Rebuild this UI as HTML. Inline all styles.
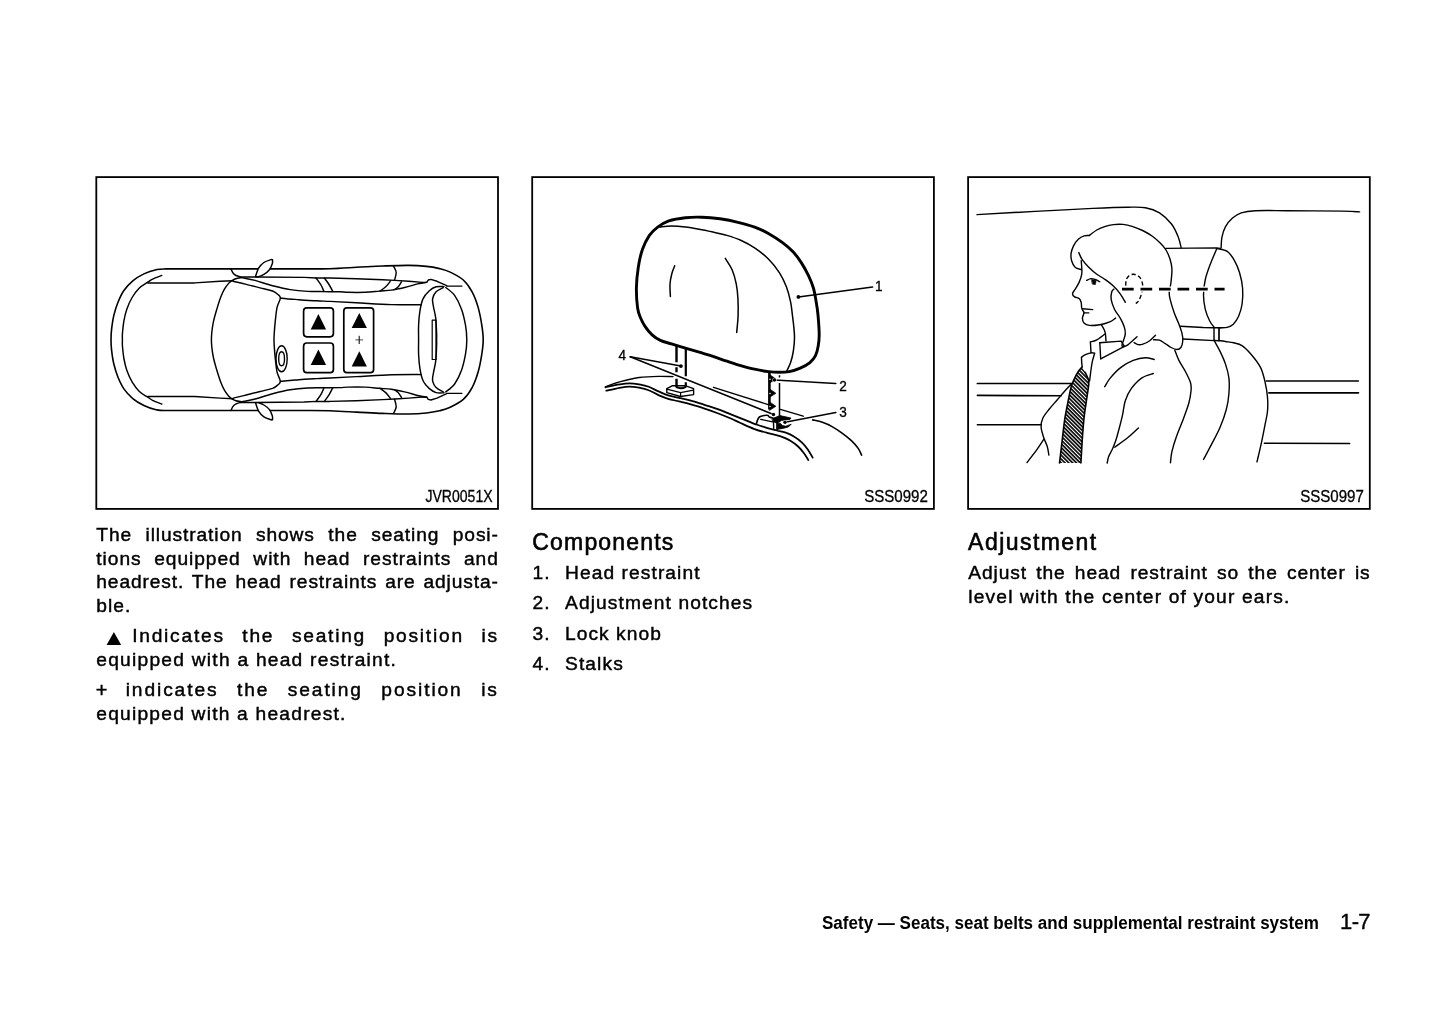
<!DOCTYPE html>
<html lang="en">
<head>
<meta charset="utf-8">
<title>Safety — Seats, seat belts and supplemental restraint system 1-7</title>
<style>
html,body{margin:0;padding:0;background:#fff;}
body{width:1445px;height:1026px;position:relative;overflow:hidden;color:#000;
  font-family:"Liberation Sans","DejaVu Sans",sans-serif;}
#page{position:absolute;left:0;top:0;width:1445px;height:1026px;will-change:transform;}
.fig{position:absolute;top:178px;width:399.9px;height:330px;}
#f1{left:97.2px;} #f2{left:533.1px;} #f3{left:969px;}
.code{position:absolute;right:5px;bottom:1.6px;font-size:15.6px;line-height:18px;letter-spacing:0;transform:scaleX(0.9);transform-origin:100% 50%;-webkit-text-stroke:0.3px #000;white-space:nowrap;}
.col{position:absolute;width:403px;}
.tri{display:inline-block;width:35.9px;height:10px;letter-spacing:0;font-family:"DejaVu Sans",sans-serif;font-size:20px;line-height:10px;text-align:left;text-indent:9.6px;-webkit-text-stroke:0;transform:translate(0.5px,1.1px) scaleY(0.86) scaleX(0.96);transform-origin:50% 100%;vertical-align:baseline;}
.ln{position:absolute;left:0;width:402.5px;font-size:19.2px;line-height:24px;height:24px;white-space:nowrap;
  text-align:justify;text-align-last:justify;letter-spacing:0.9px;-webkit-text-stroke:0.45px #000;}
.ln.l{text-align:left;text-align-last:left;}
h2{position:absolute;margin:0;font-weight:normal;font-size:23px;line-height:28px;letter-spacing:0.6px;white-space:nowrap;-webkit-text-stroke:0.6px #000;}
.foot{position:absolute;white-space:nowrap;}
</style>
</head>
<body>
<div id="page">
<svg id="art" width="1445" height="1026" viewBox="0 0 1445 1026" style="position:absolute;left:0;top:0" fill="none" stroke="#000" stroke-linecap="round" stroke-linejoin="round">
<rect x="96.3" y="177.1" width="401.7" height="331.8" stroke-width="1.8" stroke-linejoin="miter"/>
<rect x="532.2" y="177.1" width="401.7" height="331.8" stroke-width="1.8" stroke-linejoin="miter"/>
<rect x="968.1" y="177.1" width="401.7" height="331.8" stroke-width="1.8" stroke-linejoin="miter"/>
<g id="car">
<path d="M111 339.7C111 336.2 111.1 333.2 111.6 329.1C112.1 325 112.8 319.6 113.9 315.1C115 310.6 116.3 306.3 118 302.2C119.7 298.1 121.4 294.1 123.9 290.5C126.4 286.9 129.5 283.6 132.8 280.8C136.1 278 140 275.8 143.9 273.9C147.8 272 152.4 270.5 156.1 269.7C159.8 268.9 158.7 269 166 268.9C173.3 268.8 186 268.9 200 268.9C214 268.9 233.3 268.9 250 268.9C266.7 268.9 286.7 268.9 300 268.9C313.3 268.9 320.6 269 330 268.7C339.4 268.4 347.5 267.8 356.3 267.3C365.1 266.9 373.8 266.3 382.6 266C391.4 265.7 401.6 265.3 408.9 265.4C416.2 265.5 421.4 265.9 426.5 266.4C431.6 266.9 435.7 267.7 439.6 268.6C443.6 269.6 446.2 270.2 450.2 272.1C454.1 274 459.6 276.7 463.3 280C467 283.3 469.6 287.2 472.1 291.8C474.6 296.4 476.6 302 478.2 307.6C479.8 313.2 481 319.9 481.8 325.2C482.6 330.5 483.2 334.9 483.2 339.7C483.2 344.5 482.6 348.9 481.8 354.2C481 359.5 479.8 366.2 478.2 371.8C476.6 377.4 474.6 383 472.1 387.6C469.6 392.2 467 396.1 463.3 399.4C459.6 402.7 454.1 405.4 450.2 407.3C446.2 409.2 443.6 409.8 439.6 410.8C435.7 411.7 431.6 412.5 426.5 413C421.4 413.5 416.2 413.9 408.9 414C401.6 414.1 391.4 413.7 382.6 413.4C373.8 413.1 365.1 412.5 356.3 412.1C347.5 411.6 339.4 411 330 410.7C320.6 410.4 313.3 410.5 300 410.5C286.7 410.5 266.7 410.5 250 410.5C233.3 410.5 214 410.5 200 410.5C186 410.5 173.3 410.6 166 410.5C158.7 410.4 159.8 410.5 156.1 409.7C152.4 408.9 147.8 407.4 143.9 405.5C140 403.6 136.1 401.4 132.8 398.6C129.5 395.8 126.4 392.5 123.9 388.9C121.4 385.3 119.7 381.3 118 377.2C116.3 373.1 115 368.8 113.9 364.3C112.8 359.8 112.1 354.4 111.6 350.3C111.1 346.2 111 343.2 111 339.7Z" stroke-width="1.6"/>
<path d="M161.8 275.4C160.3 276 154.9 278 152.6 279.1C150.3 280.2 150.1 280.7 147.8 282.2C145.6 283.7 141.7 285.6 139.1 288.2C136.5 290.8 134.2 294 132.1 297.5C130 301 128.2 305.3 126.8 309.2C125.4 313.1 124.6 317 123.9 320.9C123.2 324.8 122.8 329.5 122.5 332.6C122.2 335.7 122.4 337.3 122.4 339.7C122.4 342.1 122.2 343.7 122.5 346.8C122.8 349.9 123.2 354.6 123.9 358.5C124.6 362.4 125.4 366.3 126.8 370.2C128.2 374.1 130 378.4 132.1 381.9C134.2 385.4 136.5 388.6 139.1 391.2C141.7 393.8 145.6 395.7 147.8 397.2C150.1 398.7 150.3 399.2 152.6 400.3C154.9 401.4 160.3 403.4 161.8 404" stroke-width="1.45"/>
<path d="M147.8 282.9L194.7 282.9L220 281.3L233.2 280.7" stroke-width="1.45"/>
<path d="M147.8 396.5L194.7 396.5L220 398.1L233.2 398.7" stroke-width="1.45"/>
<path d="M241.9 277.6C240.9 277.8 237.4 278.2 235.8 278.7C234.2 279.2 233.5 279.7 232.3 280.4C231.1 281.1 230.1 281.6 228.8 283.1C227.5 284.6 225.8 286.8 224.4 289.2C223 291.6 221.9 294.2 220.6 297.6C219.3 301 217.9 305.6 216.7 309.6C215.5 313.7 214.2 318.1 213.4 321.9C212.6 325.7 212.1 329.5 211.8 332.5C211.5 335.5 211.4 337.3 211.4 339.7C211.4 342.1 211.5 343.9 211.8 346.9C212.1 349.9 212.6 353.7 213.4 357.5C214.2 361.3 215.5 365.7 216.7 369.8C217.9 373.8 219.3 378.4 220.6 381.8C221.9 385.2 223 387.8 224.4 390.2C225.8 392.6 227.5 394.8 228.8 396.3C230.1 397.8 231.1 398.3 232.3 399C233.5 399.7 234.2 400.2 235.8 400.7C237.4 401.2 240.9 401.6 241.9 401.8" stroke-width="1.45"/>
<path d="M241.9 277.6C244.1 278.1 250 279 255.1 280.4C260.2 281.8 266.8 284.2 272.6 285.7C278.5 287.2 284.4 288.7 290.2 289.6C296 290.6 302.1 291.1 307.7 291.4C313.2 291.7 318.1 291.5 323.5 291.6C328.9 291.7 336 291.7 340 291.8C344 291.9 343.3 292.2 347.5 292.3C351.7 292.4 359.8 292.5 365.1 292.3C370.4 292.1 374.7 291.5 379.1 291.1C383.5 290.7 387.1 290.7 391.4 290.1C395.6 289.5 400.2 288.5 404.6 287.5C409 286.5 414.1 284.8 417.7 283.9C421.3 283 425 282.6 426.5 282.4" stroke-width="1.45"/>
<path d="M241.9 401.8C244.1 401.3 250 400.4 255.1 399C260.2 397.6 266.8 395.2 272.6 393.7C278.5 392.2 284.4 390.7 290.2 389.8C296 388.8 302.1 388.3 307.7 388C313.2 387.7 318.1 387.9 323.5 387.8C328.9 387.7 336 387.7 340 387.6C344 387.5 343.3 387.2 347.5 387.1C351.7 387 359.8 386.9 365.1 387.1C370.4 387.3 374.7 387.9 379.1 388.3C383.5 388.7 387.1 388.7 391.4 389.3C395.6 389.9 400.2 390.9 404.6 391.9C409 392.9 414.1 394.6 417.7 395.5C421.3 396.4 425 396.8 426.5 397" stroke-width="1.45"/>
<path d="M233.2 281.3C235.4 281.8 241.2 283.1 246.3 284.4C251.4 285.6 259.5 287.7 263.9 288.8C268.3 289.9 270.3 290.1 272.6 291C274.9 291.9 276.6 293.3 277.9 294.5C279.2 295.7 280.4 296 280.3 298.2C280.2 300.4 277.8 303.8 277 307.6C276.2 311.4 275.8 316.4 275.3 320.8C274.8 325.2 274.4 330.9 274.2 334C274 337.1 274 337.8 274 339.7C274 341.6 274 342.2 274.2 345.4C274.4 348.5 274.8 354.2 275.3 358.6C275.8 363 276.2 368 277 371.8C277.8 375.6 280.2 379 280.3 381.2C280.4 383.4 279.2 383.7 277.9 384.9C276.6 386.1 274.9 387.4 272.6 388.4C270.3 389.3 268.3 389.5 263.9 390.6C259.5 391.7 251.4 393.8 246.3 395C241.2 396.2 235.4 397.6 233.2 398.1" stroke-width="1.45"/>
<path d="M280.5 298C281.5 298.1 283.6 298.4 286.7 298.7C289.8 299 293.9 299.3 298.9 299.7C303.9 300.1 311.3 300.5 316.5 300.8C321.7 301.1 323.4 301.1 330 301.4C336.6 301.7 346.1 302.3 356.3 302.8C366.5 303.3 380.6 304.3 391.4 304.6C402.2 304.9 416.2 304.8 421.2 304.8" stroke-width="1.45"/>
<path d="M280.5 381.4C281.5 381.3 283.6 381 286.7 380.7C289.8 380.4 293.9 380.1 298.9 379.7C303.9 379.3 311.3 378.9 316.5 378.6C321.7 378.3 323.4 378.3 330 378C336.6 377.7 346.1 377.1 356.3 376.6C366.5 376.1 380.6 375.1 391.4 374.8C402.2 374.5 416.2 374.6 421.2 374.6" stroke-width="1.45"/>
<path d="M240.2 276.9L255 276.9L304.2 277.4L316.5 278L330 278L356.3 278.7L382.6 279.8L394.9 280.4L408.9 281.3L422.1 282.4" stroke-width="1.45"/>
<path d="M240.2 402.5L255 402.5L304.2 402L316.5 401.4L330 401.4L356.3 400.7L382.6 399.6L394.9 399L408.9 398.1L422.1 397" stroke-width="1.45"/>
<path d="M422.1 282.4L426.9 282.2L428.2 280L430.9 279.4L437 281.3L446.7 285.7" stroke-width="1.45"/>
<path d="M422.1 397L426.9 397.2L428.2 399.4L430.9 400L437 398.1L446.7 393.7" stroke-width="1.45"/>
<path d="M446.7 286.1L462 286.1" stroke-width="1.2"/>
<path d="M446.7 393.3L462 393.3" stroke-width="1.2"/>
<path d="M231 268.9C231.3 269.6 232.2 271.9 233 273C233.8 274.1 234.8 274.9 236 275.5C237.2 276.1 239.5 276.7 240.2 276.9" stroke-width="1.45"/>
<path d="M231 410.5C231.3 409.8 232.2 407.5 233 406.4C233.8 405.3 234.8 404.5 236 403.9C237.2 403.2 239.5 402.7 240.2 402.5" stroke-width="1.45"/>
<path d="M255.5 276.6C256 275.2 257.2 270.6 258.6 268.2C260 265.8 261.7 264 263.9 262.5C266.1 261 270.5 259.9 271.8 259.4L272.6 259.8C272.5 260.5 272.8 262.3 272.2 264C271.6 265.7 270.6 268.3 269.2 270C267.8 271.7 265.7 273.3 263.9 274.4C262.1 275.5 260 276.2 258.6 276.6C257.2 277 256 276.6 255.5 276.6" stroke-width="1.45" fill="#fff"/>
<path d="M255.5 402.8C256 404.2 257.2 408.8 258.6 411.2C260 413.6 261.7 415.4 263.9 416.9C266.1 418.4 270.5 419.5 271.8 420L272.6 419.6C272.5 418.9 272.8 417.1 272.2 415.4C271.6 413.7 270.6 411.1 269.2 409.4C267.8 407.7 265.7 406.1 263.9 405C262.1 403.9 260 403.2 258.6 402.8C257.2 402.4 256 402.8 255.5 402.8" stroke-width="1.45" fill="#fff"/>
<path d="M316.1 278C316.9 279.2 319.7 282.8 321 285C322.3 287.2 323.4 290.3 323.9 291.4" stroke-width="1.45"/>
<path d="M316.1 401.4C316.9 400.2 319.7 396.6 321 394.4C322.3 392.2 323.4 389.1 323.9 388" stroke-width="1.45"/>
<path d="M324.4 278C325.2 279.1 327.6 282.3 329 284.5C330.4 286.7 332.1 290.2 332.7 291.4" stroke-width="1.45"/>
<path d="M324.4 401.4C325.2 400.3 327.6 397.1 329 394.9C330.4 392.7 332.1 389.1 332.7 388" stroke-width="1.45"/>
<path d="M390.5 280.9C389.8 281.8 387.8 284.8 386 286.5C384.2 288.2 381 290.3 380 291.1" stroke-width="1.45"/>
<path d="M390.5 398.5C389.8 397.6 387.8 394.6 386 392.9C384.2 391.2 381 389.1 380 388.3" stroke-width="1.45"/>
<path d="M401.5 281.8C401 282.6 399.6 285.2 398.5 286.5C397.4 287.8 395.6 288.8 395 289.3" stroke-width="1.45"/>
<path d="M401.5 397.6C401 396.8 399.6 394.1 398.5 392.9C397.4 391.6 395.6 390.6 395 390.1" stroke-width="1.45"/>
<path d="M393.6 266.2C394 267.2 396.1 270.1 396.2 272.5C396.3 274.9 394.8 279 394.5 280.3" stroke-width="1.45"/>
<path d="M393.6 413.2C394 412.1 396.1 409.2 396.2 406.9C396.3 404.5 394.8 400.4 394.5 399.1" stroke-width="1.45"/>
<path d="M444 286.6C442.7 286.6 438.6 286.1 436.1 286.8C433.6 287.5 431.3 289 429.1 291C426.9 293 424.5 295.5 423 298.9C421.5 302.2 420.6 306.7 419.9 311.1C419.2 315.5 418.8 320.4 418.6 325.2C418.4 330 418.6 334.9 418.6 339.7C418.6 344.5 418.4 349.4 418.6 354.2C418.8 359 419.2 363.9 419.9 368.3C420.6 372.7 421.5 377.1 423 380.5C424.5 383.9 426.9 386.4 429.1 388.4C431.3 390.4 433.6 391.9 436.1 392.6C438.6 393.3 442.7 392.8 444 392.8" stroke-width="1.45"/>
<path d="M445.8 287.5C447.3 288.8 452 291.8 454.6 295.4C457.2 299 459.8 304.4 461.6 309.4C463.4 314.4 464.6 320.1 465.5 325.2C466.4 330.2 466.8 334.9 466.8 339.7C466.8 344.5 466.4 349.1 465.5 354.2C464.6 359.2 463.4 365 461.6 370C459.8 375 457.2 380.4 454.6 384C452 387.6 447.3 390.6 445.8 391.9" stroke-width="1.45"/>
<path d="M443.2 287.6C442 288.3 437.9 289.9 436.1 291.8C434.3 293.7 433 296.4 432.6 298.9C432.2 301.4 433 303.6 433.5 306.8C434 310 435.2 313.7 435.7 318.2C436.2 322.7 436.5 330.3 436.6 333.9C436.8 337.5 436.6 337.8 436.6 339.7C436.6 341.6 436.8 341.9 436.6 345.5C436.5 349.1 436.2 356.7 435.7 361.2C435.2 365.7 434 369.4 433.5 372.6C433 375.8 432.2 378 432.6 380.5C433 383 434.3 385.7 436.1 387.6C437.9 389.5 442 391.1 443.2 391.8" stroke-width="1.45"/>
<rect x="432.2" y="320.2" width="3.8" height="39.3" stroke-width="1.2"/>
<ellipse cx="281.6" cy="358.8" rx="5.6" ry="13" stroke-width="1.4"/>
<ellipse cx="281.6" cy="358.8" rx="2.9" ry="7" stroke-width="1.4"/>
<rect x="303.6" y="307.8" width="29.8" height="29" rx="3.2" stroke-width="1.7"/>
<rect x="303.6" y="343" width="29.8" height="29.6" rx="3.2" stroke-width="1.7"/>
<rect x="343.8" y="307.8" width="29.8" height="64.8" rx="3.2" stroke-width="1.7"/>
<path d="M318.4 313.9L310.7 329.6L326.1 329.6Z" fill="#000" stroke="none"/>
<path d="M318.4 349.6L310.7 364.9L326.1 364.9Z" fill="#000" stroke="none"/>
<path d="M359.3 312.9L351.7 328L366.9 328Z" fill="#000" stroke="none"/>
<path d="M359.3 351.2L351.7 366.5L366.9 366.5Z" fill="#000" stroke="none"/>
<path d="M355.7 339.9H362.7" stroke-width="0.7"/><path d="M359.2 336.2V343.6" stroke-width="1"/>
</g>
<g id="headrest">
<path d="M605.4 386.8C607.8 386 613.9 383.4 619.5 381.9C625.1 380.3 632.5 378.4 639 377.5C645.5 376.6 652.8 376.4 658.5 376.3C664.2 376.2 670.7 376.6 673.1 376.6" stroke-width="1.3"/>
<path d="M605.4 387.3C607.8 386.8 615.5 385 619.5 384.4C623.5 383.8 626 383.4 629.2 383.4C632.5 383.4 635.8 383.8 639 384.4C642.2 385 645.5 385.6 648.7 386.8C652 388 655.2 390 658.5 391.4C661.8 392.8 664.8 394.3 668.2 395.4C671.6 396.5 675.4 397 679 397.8C682.6 398.6 685.9 399.3 690 400.4C694.1 401.5 699.2 403.2 703.8 404.6C708.4 406.1 713.1 407.4 717.7 409.1C722.3 410.8 726.9 412.8 731.5 414.6C736.1 416.4 741.4 418.5 745.4 420.1C749.4 421.7 752.3 423.1 755.7 424.3C759.1 425.6 762.5 426.6 766 427.6C769.5 428.6 773.4 429.6 776.8 430.5C780.2 431.4 783.6 431.8 786.5 432.9C789.4 433.9 791.7 435.2 794.3 436.8C796.9 438.4 799.8 440.5 802 442.6C804.2 444.7 806 446.9 807.8 449.4C809.6 451.9 811.9 456.3 812.7 457.7" stroke-width="1.75"/>
<path d="M606.3 390.7C608.5 390.2 615.7 388.5 619.5 387.8C623.3 387.1 626 386.6 629.2 386.6C632.5 386.6 635.8 387 639 387.6C642.2 388.2 645.5 388.9 648.7 390.2C652 391.4 655.2 393.7 658.5 395.1C661.8 396.5 664.8 397.8 668.2 398.8C671.6 399.9 675.4 400.5 679 401.4C682.6 402.3 685.9 403 690 404.2C694.1 405.4 699.2 406.9 703.8 408.4C708.4 409.9 713.1 411.5 717.7 413.2C722.3 414.9 727.8 417.2 731.5 418.8C735.2 420.4 736.2 421.1 740 422.8C743.8 424.5 749.6 427.3 754.5 429.1C759.4 430.9 764.7 432.2 769.1 433.4C773.5 434.6 777.2 435.1 780.7 436.3C784.2 437.5 787.5 439 790.4 440.7C793.3 442.4 795.8 444.4 798.1 446.5C800.4 448.6 802.3 451 804 453.3C805.7 455.6 807.6 459 808.3 460.1" stroke-width="1.75"/>
<path d="M812.7 419.9C814.3 420.3 819.2 421.2 822.4 422.3C825.6 423.4 828.9 424.8 832.1 426.6C835.3 428.4 838.5 430.5 841.7 432.9C844.9 435.2 848.6 438.1 851.4 440.7C854.1 443.3 856.5 446 858.2 448.4C859.9 450.8 861 454.1 861.6 455.2" stroke-width="1.6"/>
<path d="M713.5 387.3L768.2 404.6" stroke-width="1.4"/>
<path d="M780.4 409.4L803.2 416.2" stroke-width="1.4"/>
<path d="M666.8 388.7L672.1 385.8L685.8 385.8L693.6 388.7L693.6 394.6L680.4 396.5L666.8 392.6Z" stroke-width="1.4" fill="#fff"/>
<path d="M666.8 389.2L680.6 392.6L693.4 390.2" stroke-width="1.2"/>
<path d="M680.6 392.6L680.6 396.5" stroke-width="1.2"/>
<path d="M676.5 345V362.2M676.5 367.3V372.2M676.5 378.8V387" stroke-width="2.4" stroke-linecap="butt"/>
<path d="M685.8 348V376.2M685.8 382.3V386.4" stroke-width="2.2" stroke-linecap="butt"/>
<path d="M676.5 387.2Q681 389.4 685.8 386.8" stroke-width="2"/>
<path d="M756.5 423.7C756.6 423.3 757 421.4 757.3 420.6C757.6 419.8 758.6 417.6 759.4 417C760.2 416.4 763.2 415.7 764.2 415.5C765.2 415.3 767.5 415.3 768.1 415.5C768.7 415.7 768.7 416.7 769.3 417C769.9 417.3 772.5 417.9 772.9 418" stroke-width="1.6"/>
<path d="M760.8 419.4L772.6 421.9" stroke-width="1.4"/>
<path d="M773.5 422.3L773.7 428.6" stroke-width="1.4"/>
<path d="M777 423L777 429.4" stroke-width="1.4"/>
<path d="M772.3 418.6L780 415.6L791 418L790 419.4L781.6 420.4L778.4 422.6L777.4 423.4L773 421.6Z" fill="#000" stroke="#000" stroke-width="0.8"/>
<path d="M777.2 423.4L780.2 423.2L782.4 425.6L785.8 426.2L791.2 424.2L788.4 427L782.8 428.4L777.2 429.4Z" fill="#000" stroke="#000" stroke-width="0.8"/>
<path d="M769.4 372.7V409.4" stroke-width="2.6" stroke-linecap="butt"/>
<path d="M779.5 375.2V377.6M779.5 383.1V417.6" stroke-width="1.5" stroke-linecap="butt"/>
<path d="M769.6 374.6 L775.9 379 L769.6 383 Z" fill="#000" stroke="#000" stroke-width="0.7"/>
<circle cx="770" cy="379.2" r="0.75" fill="#fff" stroke="none"/>
<path d="M769.6 388.9 L775.9 393.3 L769.6 397.3 Z" fill="#000" stroke="#000" stroke-width="0.7"/>
<circle cx="770" cy="393.5" r="0.75" fill="#fff" stroke="none"/>
<path d="M769.6 401.9 L775.9 406.3 L769.6 410.3 Z" fill="#000" stroke="#000" stroke-width="0.7"/>
<circle cx="770" cy="406.5" r="0.75" fill="#fff" stroke="none"/>
<path d="M649.4 235.4C651.9 231.7 654.5 229.5 657.7 227.1C660.9 224.7 664.2 222.5 668.8 220.9C673.4 219.3 679.9 218.3 685.4 217.7C690.9 217.1 696.2 217 702 217.2C707.8 217.4 714 218 720 218.8C726 219.7 732.2 220.9 738 222.3C743.8 223.7 749.5 225.2 754.6 227.1C759.7 228.9 763.8 230.8 768.4 233.4C773 236 778.1 239.3 782.2 242.4C786.4 245.5 790.1 248.6 793.3 252.1C796.5 255.6 799.1 259.2 801.6 263.1C804.1 267 806.5 271.5 808.5 275.6C810.5 279.8 812.1 283.6 813.4 288C814.7 292.4 815.4 297.4 816.2 301.9C817 306.4 817.5 309.5 818 315C818.5 320.5 819.2 329.7 819.2 334.9C819.2 340.1 818.8 342.5 818.2 346C817.6 349.5 816.9 352.9 815.5 355.7C814.1 358.5 812.4 360.5 809.9 362.6C807.4 364.7 803.7 366.6 800.2 368.1C796.8 369.6 792.7 370.9 789.2 371.6C785.8 372.3 783 372.3 779.5 372.3C776 372.3 772.5 372.1 768.4 371.6C764.2 371.1 759.2 370.2 754.6 369.2C750 368.2 745.3 366.9 740.7 365.6C736.1 364.3 731.5 362.7 726.9 361.2C722.3 359.7 717.6 357.9 713 356.4C708.4 354.9 703.8 353.6 699.2 352.2C694.6 350.8 690 349.5 685.4 348.1C680.8 346.7 675.7 345.2 671.5 343.9C667.3 342.6 663.6 341.9 660.4 340.4C657.2 338.9 654.6 337.2 652.1 334.9C649.6 332.6 647.1 329.4 645.2 326.6C643.3 323.8 641.9 321.1 640.6 318C639.3 314.9 638.3 313 637.6 308C636.9 303 636.3 294.8 636.4 288C636.5 281.2 637.3 273.8 638.3 267.3C639.3 260.9 640.6 254.6 642.5 249.3C644.4 244 646.9 239.1 649.4 235.4Z" stroke-width="2.9" fill="#fff"/>
<path d="M659.8 227.1C661.8 226.9 667.2 226 671.5 226C675.8 226 680.8 226.4 685.4 226.9C690 227.4 694.6 228.3 699.2 229.2C703.8 230 708.4 231 713 232C717.6 233 722.3 234 726.9 235.4C731.5 236.8 736.1 238.2 740.7 240.3C745.3 242.4 750 244.8 754.6 247.9C759.2 251 764.2 254.8 768.4 259C772.5 263.1 776.5 268.2 779.5 272.8C782.5 277.4 784.5 281.9 786.4 286.7C788.2 291.5 789.6 297.2 790.6 301.9C791.6 306.6 791.9 311.1 792.4 315C792.9 318.9 793.2 321.2 793.6 325C794 328.8 794.5 333.3 794.5 337.7C794.5 342.1 793.9 347.4 793.3 351.5C792.6 355.6 791.7 359.3 790.6 362.6C789.5 365.9 787.3 369.9 786.6 371.4" stroke-width="1.5"/>
<path d="M674.7 265.8C674.2 267.1 672.6 270.6 671.8 273.7C671 276.8 670.2 280.4 670 284.2C669.8 288 670.3 294.4 670.4 296.5" stroke-width="1.5"/>
<path d="M725.3 258.4C726.5 260.4 730.5 265.9 732.3 270.2C734.1 274.5 735.4 279.5 736.3 284.2C737.2 288.9 737.6 292.9 737.9 298.2C738.2 303.5 738.3 310.1 738.1 315.8C737.9 321.5 736.9 329.7 736.7 332.5" stroke-width="1.5"/>
<path d="M798.4 296.9L872.6 287" stroke-width="1.55"/>
<circle cx="798.4" cy="296.9" r="1.9" fill="#000" stroke="none"/>
<path d="M774.4 380L835.8 383.4" stroke-width="1.55"/>
<circle cx="774.4" cy="380" r="1.7" fill="#000" stroke="#fff" stroke-width="0.9" paint-order="stroke"/>
<path d="M785 422.2L835.8 412.6" stroke-width="1.55"/>
<circle cx="785" cy="422.2" r="1.7" fill="#000" stroke="#fff" stroke-width="0.9" paint-order="stroke"/>
<path d="M630.2 356.8L680.9 366.1" stroke-width="1.55"/>
<circle cx="680.9" cy="366.1" r="1.9" fill="#000" stroke="none"/>
<path d="M630.2 356.8L773.5 414.5" stroke-width="1.55"/>
<circle cx="773.5" cy="414.5" r="1.7" fill="#000" stroke="#fff" stroke-width="0.9" paint-order="stroke"/>
<text transform="translate(878.8 291) scale(0.92 1)" font-family="Liberation Sans, sans-serif" font-size="14.8" fill="#000" stroke="#000" stroke-width="0.35" text-anchor="middle">1</text>
<text transform="translate(843.1 391) scale(0.92 1)" font-family="Liberation Sans, sans-serif" font-size="14.8" fill="#000" stroke="#000" stroke-width="0.35" text-anchor="middle">2</text>
<text transform="translate(843.1 417.4) scale(0.92 1)" font-family="Liberation Sans, sans-serif" font-size="14.8" fill="#000" stroke="#000" stroke-width="0.35" text-anchor="middle">3</text>
<text transform="translate(622.2 360.4) scale(0.92 1)" font-family="Liberation Sans, sans-serif" font-size="14.8" fill="#000" stroke="#000" stroke-width="0.35" text-anchor="middle">4</text>
</g>
<g id="woman">
<defs><pattern id="hatch" width="2.7" height="2.7" patternUnits="userSpaceOnUse" patternTransform="rotate(45)"><rect width="2.7" height="2.7" fill="#fff" stroke="none"/><rect width="2.7" height="1.65" fill="#000" stroke="none"/></pattern></defs>
<path d="M977 214.6C986.7 214.1 1015.7 212.4 1035 211.4C1054.3 210.4 1077.3 209.1 1092.8 208.4C1108.3 207.7 1119.1 207.3 1127.9 207.2C1136.7 207.1 1140.1 206.8 1145.4 207.7C1150.7 208.6 1155.2 210.1 1159.5 212.8C1163.8 215.5 1168.3 219.9 1171.5 224C1174.7 228.1 1176.8 233.4 1178.4 237.4C1180 241.4 1180.7 246.2 1181.2 247.9" stroke-width="1.4"/>
<path d="M1221.1 247.9C1221.2 246.2 1221.2 240.9 1221.9 237.4C1222.6 233.9 1223.6 230 1225.4 226.8C1227.2 223.6 1229.9 220.4 1232.5 218.1C1235.1 215.8 1237.4 214 1241.2 212.8C1245 211.6 1247.7 211 1255.3 210.7C1262.9 210.3 1272.2 210.6 1286.8 210.7C1301.4 210.8 1330.9 210.9 1343 211.1C1355.1 211.3 1356.8 211.8 1359.6 211.9" stroke-width="1.4"/>
<path d="M977.4 383.5L1071.8 383.5" stroke-width="1.7"/>
<path d="M977.4 395.4L1061.2 395.8" stroke-width="1.6"/>
<path d="M977.4 424.7L1041.1 424.7" stroke-width="1.6"/>
<path d="M1266.1 381.1L1358.4 381.1" stroke-width="1.5"/>
<path d="M1268.9 392.8L1358.4 392.8" stroke-width="1.8"/>
<path d="M1264.4 443.2L1349.6 443.5" stroke-width="1.5"/>
<path d="M1165.8 248.4L1216.7 247.9L1220.2 248.4" stroke-width="1.4"/>
<path d="M1217.5 248.6C1219.1 249.1 1224.4 249.5 1227.2 251.4C1230 253.3 1232.2 256.7 1234.2 260.2C1236.2 263.7 1238.1 267.8 1239.5 272.5C1240.9 277.2 1242.2 282.9 1242.6 288.2C1243 293.4 1242.8 299.3 1242.1 304C1241.4 308.7 1240.1 312.9 1238.6 316.3C1237.1 319.7 1235.2 322.4 1233.3 324.2C1231.4 326 1229.4 326.8 1227.2 327.4C1225 328 1221.2 327.7 1220 327.8" stroke-width="1.4"/>
<path d="M1216.7 248.8C1215.7 251.3 1212.4 258.6 1210.5 263.7C1208.6 268.8 1206.5 274.2 1205.3 279.5C1204.1 284.8 1203.5 290.3 1203.5 295.3C1203.5 300.3 1204.3 305.1 1205.3 309.3C1206.3 313.5 1208.1 317.7 1209.6 320.7C1211 323.7 1213.3 326.1 1214 327.2" stroke-width="1.4"/>
<path d="M1180.5 326.3L1203.2 327.5L1214 327.8L1221 327.8" stroke-width="1.4"/>
<path d="M1214 327.8L1214 340.5" stroke-width="1.4"/>
<path d="M1219 327.8L1219 340.5" stroke-width="1.7"/>
<path d="M1183.3 339L1214 340.6" stroke-width="1.4"/>
<path d="M1214 340.2C1215 342.1 1218.3 347.7 1220.2 351.6C1222.1 355.6 1224 359.5 1225.4 363.9C1226.9 368.3 1228.3 372.9 1228.9 377.9C1229.5 382.9 1229.3 388.4 1228.9 393.7C1228.5 399 1227.8 403.9 1226.3 409.5C1224.8 415.1 1222.7 421.1 1220.2 427C1217.7 432.9 1214.2 439.2 1211.4 444.6C1208.6 450 1204.8 457 1203.5 459.5" stroke-width="1.4"/>
<path d="M1214.3 340.5C1215.1 340.5 1217.2 340.5 1219 340.7C1220.8 340.9 1223 341.1 1225.4 341.5C1227.9 341.9 1230.9 342.1 1233.7 342.8C1236.5 343.5 1239.1 343.7 1242 345.6C1244.9 347.5 1247.9 350.6 1251 354.2C1254.1 357.8 1258.2 362.9 1260.5 367.4C1262.8 371.9 1263.7 376.4 1264.9 381.4C1266.1 386.4 1267.1 392.2 1267.5 397.2C1267.9 402.2 1267.9 406.5 1267.5 411.2C1267.1 415.9 1265.9 420 1264.9 425.3C1263.9 430.6 1262.7 436.7 1261.4 442.8C1260.1 448.9 1257.7 458.6 1257 461.8" stroke-width="1.4"/>
<path d="M1081.4 269.6C1080.4 269.2 1076.9 269 1075.3 267.5C1073.7 266 1072.3 263 1071.6 260.7C1070.9 258.4 1070.7 256.3 1071 253.9C1071.3 251.5 1072.2 248.6 1073.4 246.1C1074.6 243.6 1076.5 240.9 1078.3 239.2C1080.1 237.5 1082.2 236.4 1084.1 235.8C1086 235.2 1088.7 235.6 1089.6 235.5" stroke-width="1.4"/>
<path d="M1089.6 235.3C1090.8 234.4 1094.3 231.4 1096.8 230C1099.3 228.6 1101.8 227.5 1104.6 226.6C1107.4 225.7 1110.3 225 1113.4 224.6C1116.5 224.2 1119.8 224.1 1123.1 224.4C1126.3 224.7 1129.7 225.6 1132.9 226.6C1136.2 227.6 1139.3 228.9 1142.6 230.5C1145.8 232.1 1149.5 234.2 1152.4 236.3C1155.3 238.4 1157.9 240.8 1160.2 243.1C1162.5 245.4 1164.4 247.4 1166 250C1167.6 252.6 1168.9 255.6 1169.9 258.7C1170.9 261.8 1171.7 265.2 1171.9 268.5C1172.2 271.8 1171.7 275.3 1171.4 278.2C1171.2 281.1 1170.8 283.6 1170.4 286C1170 288.4 1169.2 290.6 1169.2 292.9C1169.2 295.2 1169.4 296.4 1170.2 299.7C1171 302.9 1172.6 308.3 1174.1 312.4C1175.5 316.5 1177.6 320.7 1178.9 324.1C1180.2 327.5 1181.2 330.1 1181.9 332.9C1182.6 335.7 1183 338.3 1182.8 340.7C1182.6 343.1 1181.9 346 1180.9 347.5C1179.9 349 1178.6 349.5 1177 349.5C1175.4 349.5 1173 348.5 1171.1 347.5C1169.1 346.5 1167.2 344.8 1165.3 343.6C1163.3 342.4 1161.4 340.9 1159.4 340.2C1157.5 339.5 1154.6 339.8 1153.6 339.7" stroke-width="1.4"/>
<path d="M1155.5 335.3C1154.5 336.2 1151.8 339.2 1149.7 340.7C1147.6 342.2 1144.9 343.5 1142.9 344.1C1141 344.8 1139.5 344.9 1138 344.6C1136.5 344.4 1134.8 342.9 1134.1 342.6" stroke-width="1.4"/>
<path d="M1137 336.8C1136.2 337.5 1133.6 339.9 1132.1 341.2C1130.6 342.5 1129.5 343.7 1128.2 344.6C1126.9 345.5 1125.3 346.3 1124.3 346.5C1123.2 346.7 1122.1 346.6 1121.9 345.6C1121.8 344.6 1122.8 342.6 1123.4 340.7C1124 338.8 1125.2 336.2 1125.3 333.9C1125.4 331.6 1125.1 329.6 1124.3 327C1123.5 324.4 1122 321.2 1120.4 318.3C1118.8 315.4 1116.1 312.6 1114.6 309.5C1113.1 306.4 1111.7 302.6 1111.2 299.7C1110.7 296.8 1111.2 293.8 1111.7 292C1112.2 290.2 1113.5 289.6 1113.9 289.1" stroke-width="1.4"/>
<path d="M1078.8 252.6C1079.4 253.8 1080.5 257.2 1082.2 259.7C1083.9 262.2 1086.6 265.1 1089 267.5C1091.4 269.9 1094.2 272.4 1096.8 274.3C1099.4 276.2 1101.8 277.2 1104.6 279.2C1107.4 281.1 1110.8 283.6 1113.4 286C1116 288.4 1118.2 291.1 1120.2 293.8C1122.2 296.5 1124.5 300.9 1125.3 302.3" stroke-width="1.4"/>
<path d="M1081.2 260.7C1081.3 262 1081.7 266.2 1081.8 268.5C1081.9 270.8 1082.1 272 1081.7 274.3C1081.3 276.6 1080.3 279.7 1079.2 282.1C1078.1 284.6 1076.4 287.1 1075.3 289C1074.2 290.9 1072.6 292.3 1072.5 293.6C1072.4 294.9 1073.4 296 1074.6 296.8C1075.8 297.6 1078.3 297.7 1079.4 298.7C1080.5 299.7 1080.8 301.1 1081.2 302.6C1081.6 304.1 1081.4 306.2 1081.6 307.5C1081.8 308.8 1082.2 309.3 1082.6 310.2C1083 311.1 1084 311.5 1084 312.8C1084 314.1 1082.4 316.4 1082.4 318.1C1082.4 319.8 1082.8 321.8 1084 323C1085.2 324.2 1086.7 325.1 1089.3 325.4C1091.9 325.7 1096.3 325.3 1099.8 324.7C1103.3 324.1 1107.8 322.7 1110.4 321.6C1113 320.5 1114.7 318.7 1115.6 318.1" stroke-width="1.4"/>
<path d="M1082.6 308.7L1092.7 309.6" stroke-width="1.4"/>
<path d="M1083.6 312.9L1088.8 312.9" stroke-width="1.3"/>
<path d="M1086.6 280.4C1087.3 280.1 1089.5 278.8 1091 278.7C1092.5 278.6 1094.3 279.2 1095.8 279.7C1097.2 280.2 1099 281.4 1099.7 281.7" stroke-width="1.3"/>
<path d="M1091.6 279.6L1096.2 280.4L1095.4 284.6L1092.6 284.2Z" fill="#000" stroke="#000" stroke-width="0.6"/>
<path d="M1125.7 285.6C1125.8 284.6 1125.7 281.3 1126.2 279.7C1126.8 278.1 1127.7 276.7 1129 275.8C1130.3 274.9 1132.1 274.1 1133.8 274.3C1135.5 274.5 1137.8 275.5 1139.2 276.8C1140.6 278.1 1141.5 280.2 1142.1 282.1C1142.7 284 1142.8 285.9 1142.6 288C1142.4 290.1 1141.8 292.7 1141.2 294.8C1140.6 296.9 1139.6 299.2 1138.7 300.7C1137.8 302.2 1136.3 303.1 1135.8 303.6" stroke-width="1.4" stroke-dasharray="4.2 2.6" stroke-linecap="butt"/>
<path d="M1121.4 289.1H1225.2" stroke="#fff" stroke-width="5.2" stroke-dasharray="12.9 5.6" stroke-linecap="butt"/>
<path d="M1122 289.1H1224.6" stroke-width="2.9" stroke-dasharray="11.7 6.8" stroke-linecap="butt"/>
<path d="M1101.6 325.1C1102.2 326.3 1104.4 329.5 1105.1 332.1C1105.8 334.8 1105.8 339.5 1106 341" stroke-width="1.4"/>
<path d="M1105.1 334C1103.6 335 1098.7 338.9 1096.3 340.2C1093.9 341.5 1091.5 341.6 1090.5 341.9" stroke-width="1.4"/>
<path d="M1090.4 341.9L1091 352.8" stroke-width="1.4"/>
<path d="M1099.8 342.8L1121.2 341.1L1124.4 346.3L1100.7 358.8" stroke-width="1.4"/>
<path d="M1099.8 342.8L1100.7 358.8" stroke-width="1.4"/>
<path d="M1081.5 357.3C1082.1 356.9 1083.3 355.6 1084.9 354.9C1086.5 354.2 1089.6 353.2 1091.2 352.9C1092.8 352.6 1094 353.1 1094.6 353.2" stroke-width="1.4"/>
<path d="M1081.5 357.3C1081.5 358.1 1081.6 360.6 1081.7 362.2C1081.8 363.8 1082.1 366 1082.2 366.8" stroke-width="1.4"/>
<path d="M1094.6 353.4C1094.2 354.9 1092.8 359.1 1092.2 362.2C1091.6 365.3 1091.1 368.9 1090.7 372C1090.3 375.1 1089.8 379.5 1089.6 381" stroke-width="1.4"/>
<path d="M1082 367.1C1081.3 367.9 1079.3 370 1078 372C1076.7 374 1075.2 376.9 1074.1 379.3C1073 381.7 1072.1 383.3 1071.2 386.6C1070.3 389.9 1069.6 393.6 1068.6 398.9C1067.5 404.2 1066 411.5 1064.9 418.2C1063.9 424.9 1063.2 431.8 1062.3 439.3C1061.4 446.8 1060 459.1 1059.5 463L1080.9 463C1081.1 459.1 1081.8 446.8 1082.3 439.3C1082.8 431.8 1083.3 424.9 1084 418.2C1084.7 411.5 1086 403.9 1086.7 398.9C1087.4 393.9 1088 390.6 1088.3 388C1088.6 385.4 1088.8 384.9 1088.8 383.5C1088.8 382.1 1088.9 381.2 1088.3 379.3C1087.7 377.4 1085.5 373.2 1084.9 372Z" fill="url(#hatch)" stroke="none"/>
<path d="M1082 367.1C1081.3 367.9 1079.3 370 1078 372C1076.7 374 1075.2 376.9 1074.1 379.3C1073 381.7 1072.1 383.3 1071.2 386.6C1070.3 389.9 1069.6 393.6 1068.6 398.9C1067.5 404.2 1066 411.5 1064.9 418.2C1063.9 424.9 1063.2 431.8 1062.3 439.3C1061.4 446.8 1060 459.1 1059.5 463" stroke-width="1.6"/>
<path d="M1080.9 463C1081.1 459.1 1081.8 446.8 1082.3 439.3C1082.8 431.8 1083.3 424.9 1084 418.2C1084.7 411.5 1086 403.9 1086.7 398.9C1087.4 393.9 1088 390.6 1088.3 388C1088.6 385.4 1088.8 384.9 1088.8 383.5C1088.8 382.1 1088.9 381.2 1088.3 379.3C1087.7 377.4 1085.5 373.2 1084.9 372" stroke-width="1.6"/>
<path d="M1071.7 383.7C1070.5 385 1066.8 388.8 1064.4 391.5C1062 394.2 1059.7 397 1057.1 400C1054.5 403 1051.3 406.5 1048.9 409.5C1046.5 412.5 1044.1 415.3 1042.8 418.2C1041.5 421.1 1040.9 423.8 1041.1 427C1041.2 430.2 1042.7 434.3 1043.7 437.5C1044.7 440.7 1046.3 443.4 1047.2 446.3C1048.1 449.2 1048.6 453.6 1048.9 455.1" stroke-width="1.4"/>
<path d="M1043.7 439.3C1042.5 441.1 1039.5 445.9 1036.7 449.8C1033.9 453.7 1028.6 460.4 1027 462.5" stroke-width="1.4"/>
<path d="M1154.2 359.5C1152.7 359.2 1148.9 357.6 1145.4 357.7C1141.9 357.8 1137.3 358.8 1133.2 360.4C1129.1 362 1124.7 364.5 1120.9 367.4C1117.1 370.3 1113.1 374.7 1110.4 377.9C1107.7 381.1 1105.7 385.2 1104.7 386.7" stroke-width="1.4"/>
<path d="M1153.3 373.5C1151.4 374.2 1145.6 375.4 1141.9 377.9C1138.2 380.4 1134.2 384.6 1131.4 388.4C1128.6 392.2 1126.8 396.3 1125.3 400.7C1123.8 405.1 1123.6 410 1122.6 414.7C1121.6 419.4 1120.3 424.4 1119.1 428.8C1117.9 433.2 1116.8 437.6 1115.6 441.1C1114.4 444.6 1113.3 447.2 1112.1 449.8C1110.9 452.4 1109.4 454.6 1108.6 456.8C1107.8 459 1107.4 462 1107.2 463" stroke-width="1.4"/>
<path d="M1138.4 427.9C1136.7 429.5 1131.9 434.3 1127.9 437.5C1124 440.7 1116.9 445.6 1114.7 447.2" stroke-width="1.4"/>
<path d="M1174.8 350.2C1175.5 351.9 1177.1 356.8 1178.9 360.4C1180.7 363.9 1183.5 367.7 1185.4 371.5C1187.4 375.3 1189.7 379.8 1190.6 383C1191.5 386.2 1191.3 387.8 1191 391C1190.7 394.2 1190.2 398 1189 402.5C1187.8 407 1185.7 412.4 1183.6 418.2C1181.5 423.9 1178.2 431.4 1176.3 437C1174.3 442.6 1172.9 447.3 1171.9 451.6C1170.9 455.9 1170.7 460.9 1170.5 462.8" stroke-width="1.4"/>
</g>
</svg>
<div class="fig" id="f1"><div class="code">JVR0051X</div></div>
<div class="fig" id="f2"><div class="code" style="transform:scaleX(0.967);right:4.6px">SSS0992</div></div>
<div class="fig" id="f3"><div class="code" style="transform:scaleX(0.967);right:4.8px">SSS0997</div></div>

<div class="col" style="left:96.3px;top:0">
  <div class="ln" style="top:522.8px;letter-spacing:0.88px">The illustration shows the seating posi-</div>
  <div class="ln" style="top:546.8px;letter-spacing:0.95px">tions equipped with head restraints and</div>
  <div class="ln" style="top:569.8px;letter-spacing:0.88px">headrest. The head restraints are adjusta-</div>
  <div class="ln l" style="top:593.8px;letter-spacing:1px">ble.</div>
  <div class="ln" style="top:623.8px;letter-spacing:1.75px"><span class="tri">&#9650;</span>Indicates the seating position is</div>
  <div class="ln l" style="top:647.8px;letter-spacing:1.24px">equipped with a head restraint.</div>
  <div class="ln" style="top:677.8px;letter-spacing:1.9px"><span style="display:inline-block;position:relative;top:1.6px;margin-right:-2.2px;transform:scale(1.04)">+</span> indicates the seating position is</div>
  <div class="ln l" style="top:701.8px;letter-spacing:1.22px">equipped with a headrest.</div>
</div>

<h2 style="left:532.3px;top:528px;letter-spacing:1.18px">Components</h2>
<div class="col" style="left:532.6px;top:0">
  <div class="ln l" style="top:560.8px;letter-spacing:1.08px">1.<span style="position:absolute;left:32.4px">Head restraint</span></div>
  <div class="ln l" style="top:591.2px;letter-spacing:1.1px">2.<span style="position:absolute;left:32.4px">Adjustment notches</span></div>
  <div class="ln l" style="top:621.9px;letter-spacing:1.05px">3.<span style="position:absolute;left:32.4px">Lock knob</span></div>
  <div class="ln l" style="top:651.8px;letter-spacing:1.1px">4.<span style="position:absolute;left:32.4px">Stalks</span></div>
</div>

<h2 style="left:968.1px;top:528px;letter-spacing:1.45px">Adjustment</h2>
<div class="col" style="left:968.3px;top:0">
  <div class="ln" style="top:560.8px;letter-spacing:0.9px;width:402.3px">Adjust the head restraint so the center is</div>
  <div class="ln l" style="top:584.6px;letter-spacing:1.16px">level with the center of your ears.</div>
</div>

<div class="foot" id="ft" style="left:821.6px;top:911.3px;font-weight:bold;font-size:18px;line-height:24px;transform-origin:0 0;transform:scaleX(0.946)">Safety — Seats, seat belts and supplemental restraint system</div>
<div class="foot" id="pn" style="left:1340px;top:908.9px;font-size:22px;line-height:26px;letter-spacing:-0.6px;-webkit-text-stroke:0.4px #000">1-7</div>
</div>
</body>
</html>
